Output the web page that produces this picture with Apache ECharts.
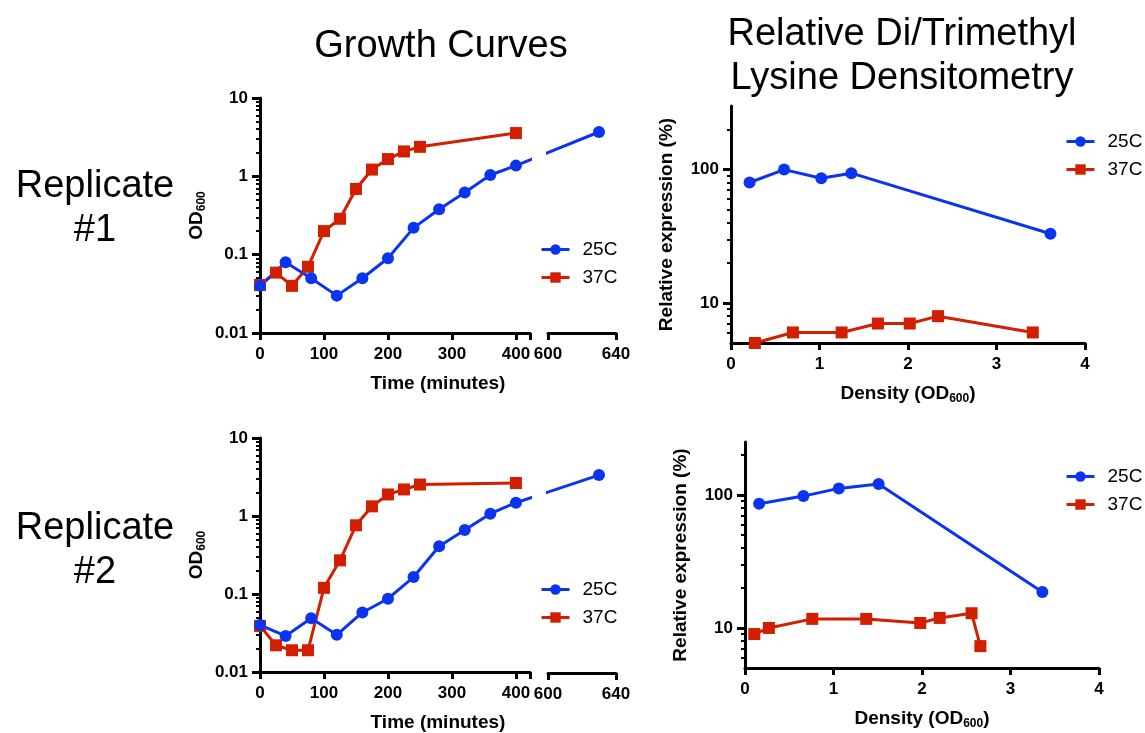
<!DOCTYPE html>
<html>
<head>
<meta charset="utf-8">
<title>Growth curves and lysine methylation densitometry</title>
<script src="https://cdn.jsdelivr.net/npm/echarts@6.0.0/dist/echarts.min.js"></script>
<style>
  html, body { margin: 0; padding: 0; background: #fff; }
  #main { width: 1145px; height: 733px; }
</style>
</head>
<body>
<div id="main"></div>
<script>
// ==============================================================
// Data
// ==============================================================
var legendNames = ['25C', '37C'];

// growth curves: time (minutes) vs OD600
var rep1Time25 = [0, 40, 80, 120, 160, 200, 240, 280, 320, 360, 400, 630];
var rep1Od25   = [0.04, 0.08, 0.05, 0.03, 0.05, 0.09, 0.22, 0.38, 0.62, 1.04, 1.37, 3.68];
var rep1Time37 = [0, 25, 50, 75, 100, 125, 150, 175, 200, 225, 250, 400];
var rep1Od37   = [0.041, 0.059, 0.04, 0.07, 0.2, 0.287, 0.69, 1.22, 1.66, 2.08, 2.38, 3.57];

var rep2Time25 = [0, 40, 80, 120, 160, 200, 240, 280, 320, 360, 400, 630];
var rep2Od25   = [0.04, 0.029, 0.049, 0.03, 0.058, 0.087, 0.165, 0.41, 0.66, 1.07, 1.48, 3.36];
var rep2Time37 = [0, 25, 50, 75, 100, 125, 150, 175, 200, 225, 250, 400];
var rep2Od37   = [0.039, 0.022, 0.019, 0.019, 0.12, 0.27, 0.76, 1.33, 1.89, 2.19, 2.53, 2.65];

// densitometry: density (OD600) vs relative expression (%)
var dens1X25 = [0.21, 0.60, 1.02, 1.36, 3.61];
var dens1Y25 = [80, 100, 86, 94, 33];
var dens1X37 = [0.27, 0.70, 1.25, 1.66, 2.02, 2.34, 3.41];
var dens1Y37 = [5.0, 6.0, 6.0, 7.0, 7.0, 7.95, 6.0];

var dens2X25 = [0.16, 0.66, 1.06, 1.51, 3.36];
var dens2Y25 = [86, 98, 112, 121, 18.6];
var dens2X37 = [0.105, 0.27, 0.76, 1.37, 1.98, 2.2, 2.56, 2.66];
var dens2Y37 = [9.0, 10, 11.7, 11.7, 10.9, 11.9, 12.9, 7.3];

// broken time axis: 0..422 | 600..640
var timeLeftMax = 422, timeRightMin = 600, timeRightMax = 640;

// ==============================================================
// Styles
// ==============================================================
var BLUE = '#0b34f0', RED = '#d21f00';
var FONT = '"Liberation Sans", Arial, Helvetica, sans-serif';
var AXIS_LINE = { show: true, onZero: false, lineStyle: { color: '#000', width: 3 } };
var TICK_LABEL = { color: '#000', fontSize: 17, fontWeight: 'bold', fontFamily: FONT, margin: 12 };

function pairs(xs, ys, keep) {
  var out = [];
  xs.forEach(function (x, i) { if (!keep || keep(x)) out.push([x, ys[i]]); });
  return out;
}

function isPow10(v) {
  var l = Math.log10(v);
  return Math.abs(l - Math.round(l)) < 1e-6;
}

// decade (major) and 2..9 (minor) tick positions in log10 space
function decadeTicks(min, max) {
  var major = [], minor = [];
  for (var d = Math.floor(Math.log10(min)); d <= Math.ceil(Math.log10(max)); d++) {
    for (var k = 1; k < 10; k++) {
      var v = k * Math.pow(10, d);
      if (v < min * 0.999 || v > max * 1.001) continue;
      if (k === 1) major.push(Math.log10(v));
      else if (Math.abs(v - min) > 1e-9 && Math.abs(v - max) > 1e-9) minor.push(Math.log10(v));
    }
  }
  return { major: major, minor: minor };
}

function richName() {
  return {
    rich: {
      a: { fontSize: 19, fontWeight: 'bold', fontFamily: FONT, color: '#000' },
      s: { fontSize: 12, fontWeight: 'bold', fontFamily: FONT, color: '#000', padding: [10, 0, 0, 0] }
    }
  };
}

function logY(gridIndex, min, max, show, name, nameGap) {
  return {
    type: 'log', logBase: 10, gridIndex: gridIndex, min: min, max: max, show: show,
    position: 'left',
    axisLine: AXIS_LINE,
    axisTick: { show: false },
    axisLabel: Object.assign({}, TICK_LABEL, {
      formatter: function (v) { return isPow10(v) ? String(+v.toPrecision(6)) : ''; }
    }),
    splitLine: { show: false },
    name: name, nameLocation: 'middle', nameGap: nameGap,
    nameTextStyle: richName()
  };
}

function tickOverlay(gridIndex, min, max, values, len, width) {
  return {
    type: 'value', gridIndex: gridIndex, position: 'left',
    min: Math.log10(min), max: Math.log10(max),
    axisLine: { show: false, onZero: false },
    axisLabel: { show: false },
    splitLine: { show: false },
    axisTick: { show: true, customValues: values, length: len, lineStyle: { color: '#000', width: width } }
  };
}

function valX(gridIndex, min, max, interval, name, nameGap, nameStyle, fmt) {
  return {
    type: 'value', gridIndex: gridIndex, min: min, max: max, interval: interval,
    position: 'bottom',
    axisLine: AXIS_LINE,
    axisTick: { show: true, length: 7, lineStyle: { color: '#000', width: 3 } },
    axisLabel: Object.assign({}, TICK_LABEL, { margin: 13, formatter: fmt }),
    splitLine: { show: false },
    name: name, nameLocation: 'middle', nameGap: nameGap,
    nameTextStyle: nameStyle
  };
}

function lineSeries(name, color, symbol, axisIdx, data, clip) {
  return {
    name: name, type: 'line', xAxisIndex: axisIdx, yAxisIndex: axisIdx,
    data: data, symbol: symbol, symbolSize: symbol === 'circle' ? 12 : 12,
    lineStyle: { width: 3, color: color }, itemStyle: { color: color }, color: color,
    clip: clip
  };
}

function legendAt(left, top) {
  return {
    data: legendNames, orient: 'vertical', left: left, top: top, padding: 0,
    itemWidth: 28, itemHeight: 13, itemGap: 9, selectedMode: false,
    lineStyle: { width: 3 },
    textStyle: { fontSize: 19, fontFamily: FONT, color: '#000', padding: [0, 0, 0, 8] }
  };
}

// ==============================================================
// Layout
// ==============================================================
var growthMin = 0.01, growthMax = 10;
var dens1Min = 5, dens1Max = 300;
var dens2Min = 5, dens2Max = 250;

var grids = [
  { left: 260, top: 98, width: 270, height: 235 },   // 0 rep1 growth, left part
  { left: 548, top: 98, width: 68, height: 235 },    // 1 rep1 growth, right part
  { left: 731, top: 106, width: 354, height: 237 },  // 2 rep1 densitometry
  { left: 260, top: 438, width: 270, height: 235 },  // 3 rep2 growth, left part
  { left: 548, top: 438, width: 68, height: 235 },   // 4 rep2 growth, right part
  { left: 745, top: 442, width: 354, height: 226 }   // 5 rep2 densitometry
];

var hideBreakEnd = function (v) { return v % 100 === 0 ? String(v) : ''; };
var timeName = { fontSize: 19, fontWeight: 'bold', fontFamily: FONT, color: '#000', padding: [0, 0, 0, 86] };
var densName = '{a|Density (OD}{s|600}{a|)}';
var odName = '{a|OD}{s|600}';
var relName = '{a|Relative expression (%)}';

var xAxes = [
  valX(0, 0, timeLeftMax, 100, 'Time (minutes)', 41, timeName, hideBreakEnd),
  valX(1, timeRightMin, timeRightMax, 40, '', 0, {}, null),
  valX(2, 0, 4, 1, densName, 40, richName(), null),
  valX(3, 0, timeLeftMax, 100, 'Time (minutes)', 41, timeName, hideBreakEnd),
  valX(4, timeRightMin, timeRightMax, 40, '', 0, {}, null),
  valX(5, 0, 4, 1, densName, 40, richName(), null)
];

var yAxes = [
  logY(0, growthMin, growthMax, true, odName, 52),
  logY(1, growthMin, growthMax, false, '', 0),
  logY(2, dens1Min, dens1Max, true, relName, 55),
  logY(3, growthMin, growthMax, true, odName, 52),
  logY(4, growthMin, growthMax, false, '', 0),
  logY(5, dens2Min, dens2Max, true, relName, 55)
];
[[0, growthMin, growthMax], [2, dens1Min, dens1Max], [3, growthMin, growthMax], [5, dens2Min, dens2Max]]
  .forEach(function (g) {
    var t = decadeTicks(g[1], g[2]);
    yAxes.push(tickOverlay(g[0], g[1], g[2], t.major, 8, 3));
    yAxes.push(tickOverlay(g[0], g[1], g[2], t.minor, 4, 2));
  });

var leftOf = function (t) { return t <= timeLeftMax; };
var rightOf = function (t) { return t >= timeRightMin; };

var series = [
  lineSeries('37C', RED, 'rect', 0, pairs(rep1Time37, rep1Od37, leftOf), true),
  lineSeries('25C', BLUE, 'circle', 0, pairs(rep1Time25, rep1Od25, leftOf), true),
  lineSeries('25C', BLUE, 'circle', 1, pairs(rep1Time25, rep1Od25, rightOf), true),
  lineSeries('37C', RED, 'rect', 2, pairs(dens1X37, dens1Y37), false),
  lineSeries('25C', BLUE, 'circle', 2, pairs(dens1X25, dens1Y25), false),
  lineSeries('37C', RED, 'rect', 3, pairs(rep2Time37, rep2Od37, leftOf), true),
  lineSeries('25C', BLUE, 'circle', 3, pairs(rep2Time25, rep2Od25, leftOf), true),
  lineSeries('25C', BLUE, 'circle', 4, pairs(rep2Time25, rep2Od25, rightOf), true),
  lineSeries('37C', RED, 'rect', 5, pairs(dens2X37, dens2Y37), false),
  lineSeries('25C', BLUE, 'circle', 5, pairs(dens2X25, dens2Y25), false)
];

function bigText(text, x, y) {
  return {
    type: 'text', x: x, y: y, silent: true,
    style: { text: text, fill: '#000', font: '38px ' + FONT, align: 'center', verticalAlign: 'middle', lineHeight: 44 }
  };
}

var option = {
  animation: false,
  backgroundColor: '#fff',
  grid: grids,
  xAxis: xAxes,
  yAxis: yAxes,
  legend: [legendAt(540, 240), legendAt(1065, 132), legendAt(540, 580), legendAt(1065, 467)],
  graphic: [
    bigText('Growth Curves', 441, 47),
    bigText('Relative Di/Trimethyl\nLysine Densitometry', 902, 57),
    bigText('Replicate\n#1', 95, 209),
    bigText('Replicate\n#2', 95, 551)
  ],
  series: series
};

var chart = echarts.init(document.getElementById('main'));
chart.setOption(option);

// the 25C line runs across the axis break: join the last point before the
// break and the first point after it in screen space, clipped by each grid
function bridge(leftIdx, rightIdx) {
  var leftData = option.series[leftIdx].data;
  var rightData = option.series[rightIdx].data;
  var pL = chart.convertToPixel({ seriesIndex: leftIdx }, leftData[leftData.length - 1]);
  var pR = chart.convertToPixel({ seriesIndex: rightIdx }, rightData[0]);
  var inLeft = chart.convertFromPixel({ seriesIndex: leftIdx }, pR);
  var inRight = chart.convertFromPixel({ seriesIndex: rightIdx }, pL);
  option.series[leftIdx].data = leftData.concat([{ value: inLeft, symbol: 'none' }]);
  option.series[rightIdx].data = [{ value: inRight, symbol: 'none' }].concat(rightData);
}
bridge(1, 2);
bridge(6, 7);
chart.setOption(option);
</script>
</body>
</html>
